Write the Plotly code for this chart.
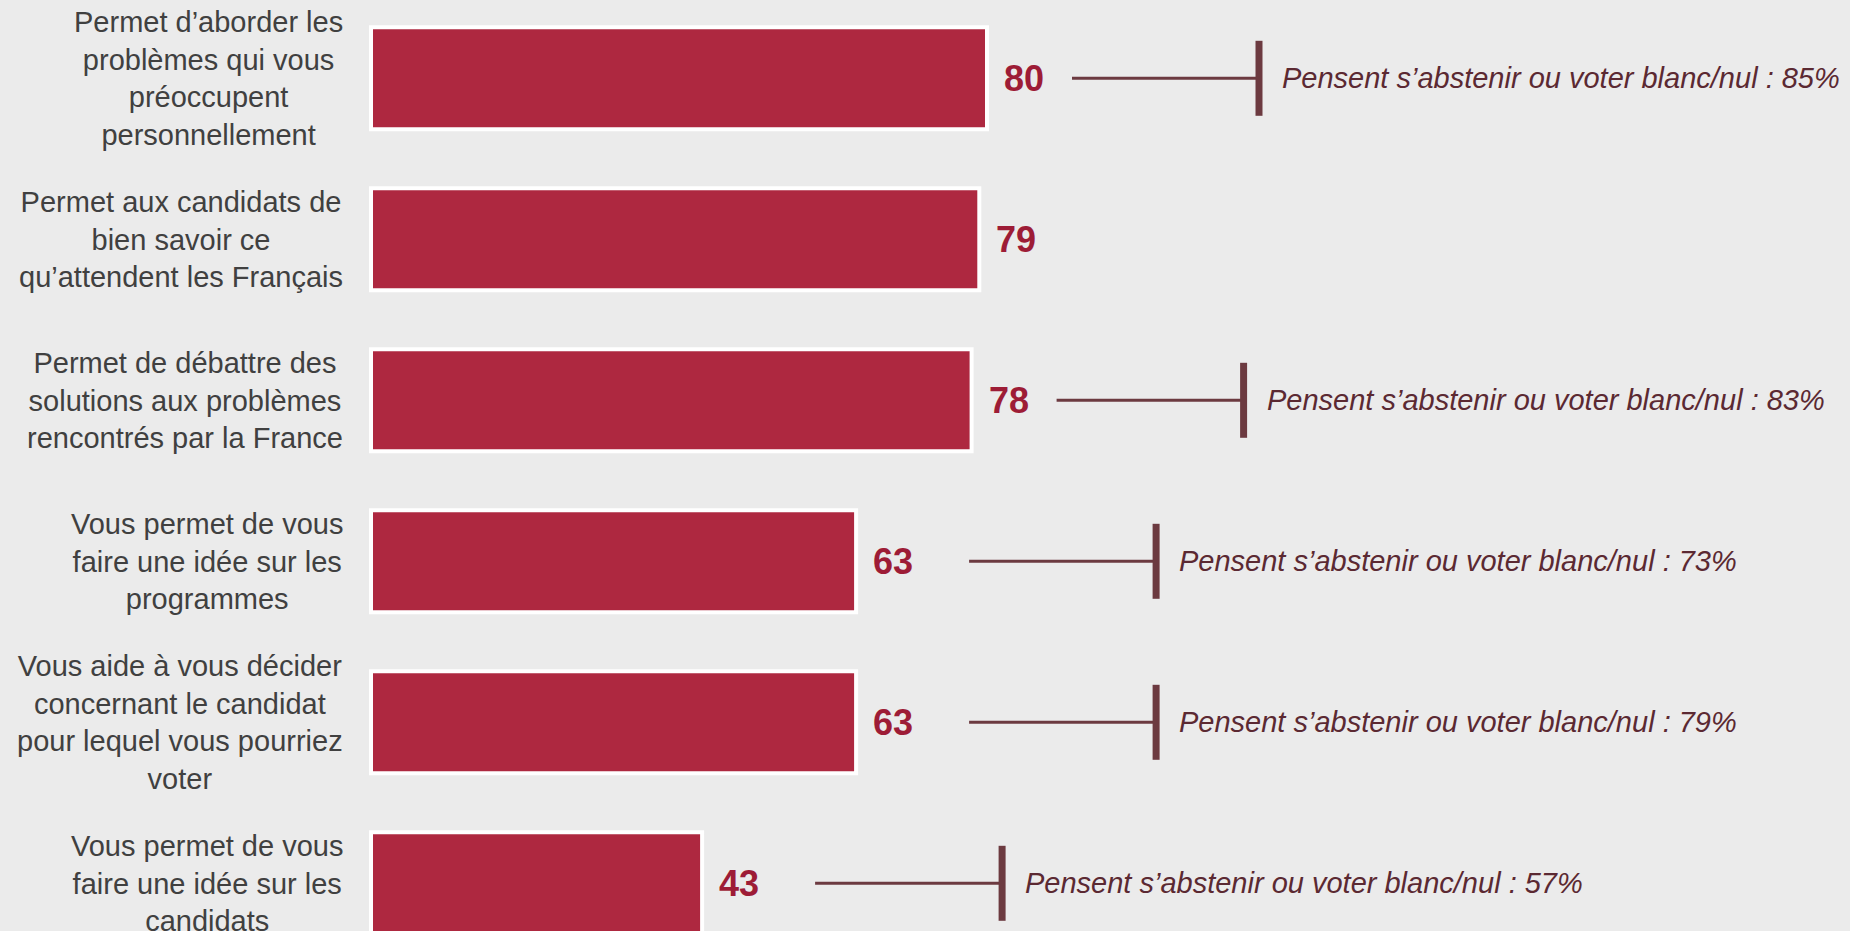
import plotly.graph_objects as go

# Survey items (one line break per wrapped line), scores and abstainers' scores
categories = [
    "Permet d’aborder les<br>problèmes qui vous<br>préoccupent<br>personnellement",
    "Permet aux candidats de<br>bien savoir ce<br>qu’attendent les Français",
    "Permet de débattre des<br>solutions aux problèmes<br>rencontrés par la France",
    "Vous permet de vous<br>faire une idée sur les<br>programmes",
    "Vous aide à vous décider<br>concernant le candidat<br>pour lequel vous pourriez<br>voter",
    "Vous permet de vous<br>faire une idée sur les<br>candidats",
]
scores = [80, 79, 78, 63, 63, 43]
abstention_scores = [85, None, 83, 73, 79, 57]
note_prefix = "Pensent s’abstenir ou voter blanc/nul : "

# Geometry (pixels)
W, H = 1850, 931
ZERO_PX = 371          # x pixel of value 0
PX_PER_UNIT = 7.7      # pixels per percentage point
FIRST_ROW_PX = 78.3    # y pixel of first bar centre
ROW_PX = 161           # distance between bar centres
BAR_PX = 102
LABEL_RIGHT_PX = 345
leader_gap_px = [85, 85, 85, 113, 113, 113]   # gap between bar end and leader line
LEADER_LEN_PX = 187
TICK_HALF_PX = 37.5

# Colours
BG = "#EBEBEB"
BAR = "#AE2840"
VALUE = "#9D1C36"
LEADER = "#6C3A40"
NOTE = "#5B2932"
LABEL = "#404040"
FONT = "Liberation Sans, Arial, sans-serif"

rows = list(range(len(categories)))


def px_to_x(px):
    return px / PX_PER_UNIT


fig = go.Figure(
    go.Bar(
        x=scores,
        y=rows,
        orientation="h",
        width=BAR_PX / ROW_PX,
        marker=dict(color=BAR, line=dict(color="white", width=4)),
        hoverinfo="skip",
    )
)

annotations = []
shapes = []

for i, (label, score, abst) in enumerate(zip(categories, scores, abstention_scores)):
    # Category label: centred text block whose right edge sits left of the bars
    annotations.append(dict(
        x=px_to_x(LABEL_RIGHT_PX - ZERO_PX), y=i, xref="x", yref="y",
        text=label, showarrow=False, xanchor="right", yanchor="middle",
        align="center",
        font=dict(family=FONT, size=29, color=LABEL),
    ))

    # Value at bar end
    annotations.append(dict(
        x=score, y=i, xref="x", yref="y", text=str(score), showarrow=False,
        xanchor="left", yanchor="middle", xshift=15,
        font=dict(family=FONT, size=36, color=VALUE, weight="bold"),
    ))

    if abst is None:
        continue

    # Leader line ending on a vertical tick, followed by the abstainers' note
    x_start = score + px_to_x(leader_gap_px[i])
    x_tick = x_start + px_to_x(LEADER_LEN_PX)
    shapes.append(dict(
        type="line", xref="x", yref="y", x0=x_start, x1=x_tick, y0=i, y1=i,
        line=dict(color=LEADER, width=3),
    ))
    shapes.append(dict(
        type="line", xref="x", yref="y", x0=x_tick, x1=x_tick,
        y0=i - TICK_HALF_PX / ROW_PX, y1=i + TICK_HALF_PX / ROW_PX,
        line=dict(color=LEADER, width=7),
    ))
    annotations.append(dict(
        x=x_tick, y=i, xref="x", yref="y", text=f"<i>{note_prefix}{abst}%</i>",
        showarrow=False, xanchor="left", yanchor="middle", xshift=21,
        font=dict(family=FONT, size=29, color=NOTE),
    ))

fig.update_layout(
    width=W, height=H,
    margin=dict(l=0, r=0, t=0, b=0),
    paper_bgcolor=BG, plot_bgcolor=BG,
    showlegend=False,
    annotations=annotations,
    shapes=shapes,
    xaxis=dict(range=[px_to_x(-ZERO_PX), px_to_x(W - ZERO_PX)], visible=False, fixedrange=True),
    yaxis=dict(range=[(H - FIRST_ROW_PX) / ROW_PX, -FIRST_ROW_PX / ROW_PX], visible=False, fixedrange=True),
)

fig.write_html("out.html")
